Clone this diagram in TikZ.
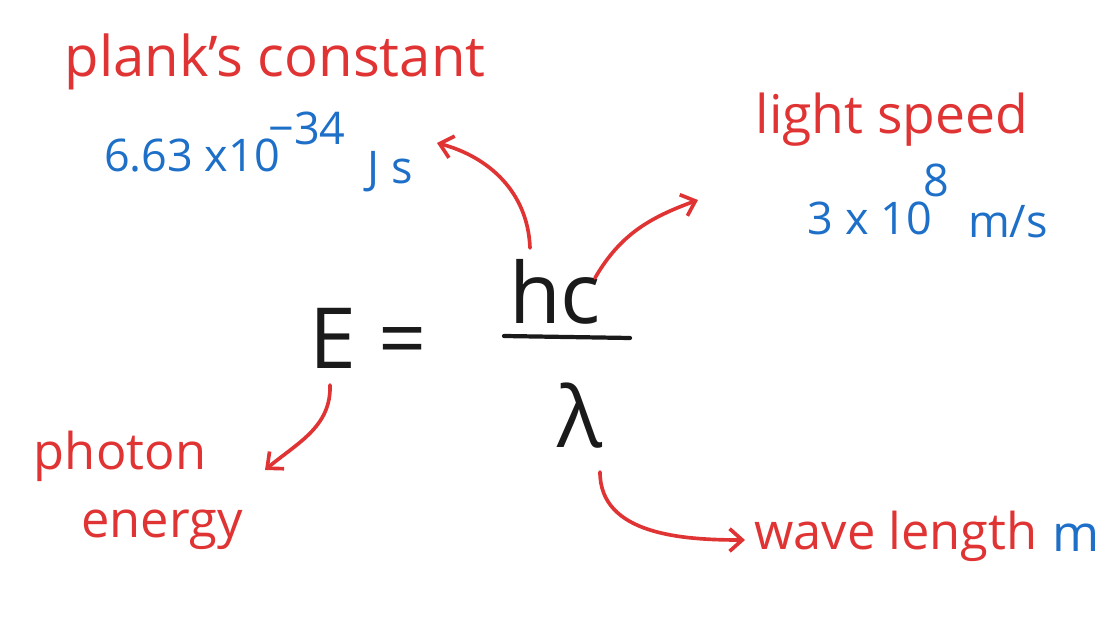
\documentclass[tikz,border=0pt]{standalone}
\usepackage{fontspec}
\setmainfont{Open Sans}
\usetikzlibrary{arrows.meta}
\definecolor{penred}{HTML}{E03434}
\definecolor{penblue}{HTML}{1E6FC8}
\definecolor{penblack}{HTML}{1A1A1A}
\tikzset{
  redtext/.style={text=penred, font=\fontsize{36}{40}\selectfont, inner sep=0pt},
  bluetext/.style={text=penblue, font=\fontsize{32}{36}\selectfont, inner sep=0pt},
  eqtext/.style={text=penblack, font=\fontsize{60}{66}\selectfont, inner sep=0pt},
  pointer/.style={penred, line width=2.6pt, line cap=round,
    -{Straight Barb[length=9pt, width=16pt, line width=2.6pt]}}
}

\begin{document}
\begin{tikzpicture}
    \useasboundingbox (0,0) rectangle (27.9,-15.425);

    % Formula
    \node[eqtext] (E) at (9.2,-8.45) {E =};
    \node[eqtext] (hc) at (13.875,-7.3) {hc};
    \node[eqtext] (lambda) at (14.5,-10.4) {λ};
    \coordinate (barL) at (12.6,-8.4);
    \coordinate (barR) at (15.75,-8.45);
    \draw[penblack, line width=3pt, line cap=round] (barL) -- (barR);

    % Planck's constant
    \node[redtext, font=\fontsize{40}{44}\selectfont] (planck) at (6.875,-1.55) {plank's constant};
    \node[bluetext] (hval) at (4.8,-3.9) {6.63 x10};
    \node[bluetext] (hexp) at (7.675,-3.2) {−34};
    \node[bluetext] (hunit) at (9.75,-4.3) {J s};

    % Light speed
    \node[redtext, font=\fontsize{38}{42}\selectfont] (light) at (22.3,-3.0) {light speed};
    \node[bluetext] (cval) at (21.75,-5.45) {3 x 10};
    \node[bluetext] (cexp) at (23.4,-4.5) {8};
    \node[bluetext] (cunit) at (25.2,-5.55) {m/s};

    % Photon energy
    \node[redtext] (photon) at (3.0,-11.4) {photon};
    \node[redtext] (energy) at (4.05,-13.25) {energy};

    % Wave length
    \node[redtext] (wave) at (22.4,-13.4) {wave length};
    \node[bluetext, font=\fontsize{36}{40}\selectfont] (wunit) at (26.9,-13.45) {m};

    % Arrows
    \coordinate (hcTop) at (13.25,-6.2);
    \coordinate (hcRight) at (14.875,-6.95);
    \coordinate (Ebot) at (8.25,-9.625);
    \coordinate (lamBot) at (15,-11.8);
    \coordinate (toH) at (10.925,-3.575);
    \coordinate (toC) at (17.45,-5.0);
    \coordinate (toPhoton) at (6.625,-11.75);
    \coordinate (toWave) at (18.625,-13.5);
    \draw[pointer] (hcTop) to[out=92, in=-15] (toH);
    \draw[pointer] (hcRight) to[out=60, in=200] (toC);
    \draw[pointer] (Ebot) to[out=-88, in=40] (toPhoton);
    \draw[pointer] (lamBot) to[out=-90, in=180] (toWave);
\end{tikzpicture}
\end{document}
